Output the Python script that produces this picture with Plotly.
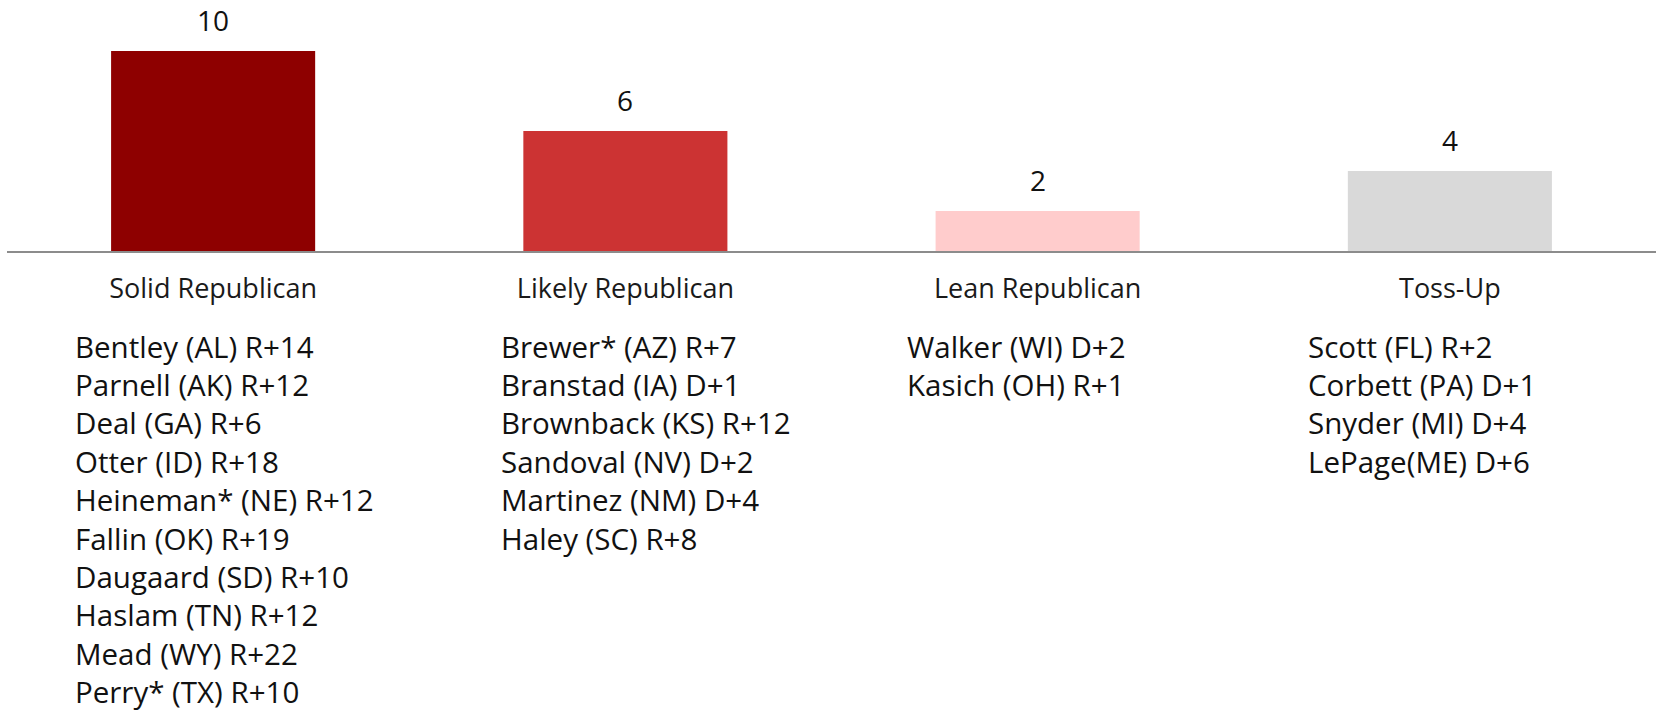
import plotly.graph_objects as go

categories = ["Solid Republican", "Likely Republican", "Lean Republican", "Toss-Up"]
counts = [10, 6, 2, 4]
bar_colors = ["#8E0000", "#CC3333", "#FFCCCC", "#D9D9D9"]

solid_rep = ["Bentley (AL) R+14", "Parnell (AK) R+12", "Deal (GA) R+6", "Otter (ID) R+18",
             "Heineman* (NE) R+12", "Fallin (OK) R+19", "Daugaard (SD) R+10",
             "Haslam (TN) R+12", "Mead (WY) R+22", "Perry* (TX) R+10"]
likely_rep = ["Brewer* (AZ) R+7", "Branstad (IA) D+1", "Brownback (KS) R+12",
              "Sandoval (NV) D+2", "Martinez (NM) D+4", "Haley (SC) R+8"]
lean_rep = ["Walker (WI) D+2", "Kasich (OH) R+1"]
toss_up = ["Scott (FL) R+2", "Corbett (PA) D+1", "Snyder (MI) D+4", "LePage(ME) D+6"]
lists = [solid_rep, likely_rep, lean_rep, toss_up]

W, H = 1661, 714
ML, MR, MT, MB = 7, 5, 0, 463
FONT = "'Open Sans', Lato, sans-serif"

fig = go.Figure(go.Bar(
    x=categories, y=counts, marker=dict(color=bar_colors, line=dict(width=0)),
    width=0.495, hoverinfo="skip",
))

annotations = []
for c, v in zip(categories, counts):
    annotations.append(dict(x=c, y=v, xref="x", yref="y", text=str(v), showarrow=False,
                            yanchor="bottom", yshift=10, font=dict(size=28, color="#111", family=FONT)))

# left edges of the candidate lists (pixels)
list_left_px = [73, 499, 905, 1306]
first_line_px = 346
line_step_px = 38.4
plot_w = W - ML - MR
plot_h = H - MT - MB
for left, items in zip(list_left_px, lists):
    for i, txt in enumerate(items):
        ypx = first_line_px + i * line_step_px
        annotations.append(dict(
            x=(left - ML) / plot_w, xref="paper",
            y=1 - (ypx - MT) / plot_h, yref="paper",
            text=txt, showarrow=False, xanchor="left", yanchor="middle",
            font=dict(size=29.5, color="#111", family=FONT)))

fig.update_layout(
    width=W, height=H, margin=dict(l=ML, r=MR, t=MT, b=MB),
    paper_bgcolor="white", plot_bgcolor="white", showlegend=False,
    bargap=0.5, annotations=annotations,
    xaxis=dict(showline=True, linecolor="#8c8c8c", linewidth=1.5, showgrid=False,
               ticks="outside", ticklen=13, tickcolor="rgba(0,0,0,0)",
               tickfont=dict(size=27, color="#1a1a1a", family=FONT), fixedrange=True),
    yaxis=dict(range=[0, 12.55], visible=False, fixedrange=True),
)
fig.write_html("out.html", config={"displayModeBar": False},
               post_script="document.body.style.margin='0';")
